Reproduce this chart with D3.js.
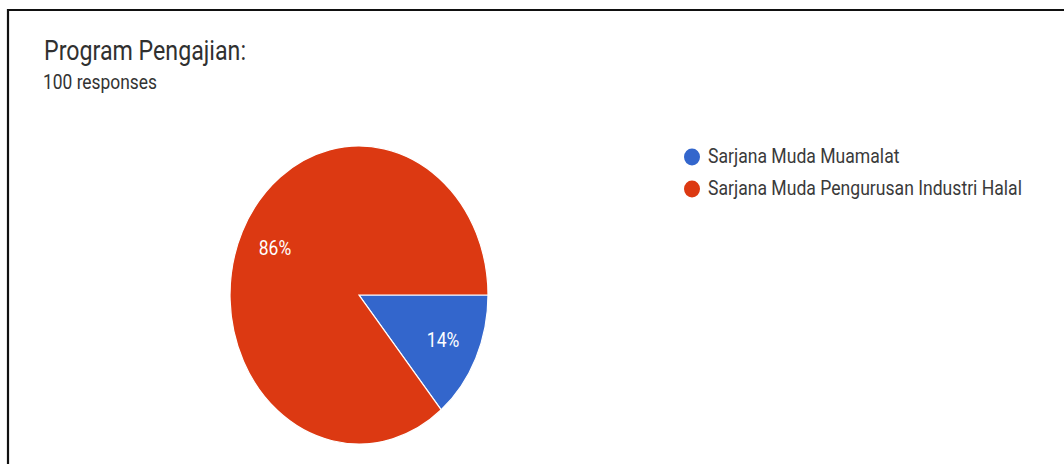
<!DOCTYPE html>
<html>
<head>
<meta charset="utf-8">
<script src="https://cdn.jsdelivr.net/npm/d3@7"></script>
<style>
  html, body { margin: 0; padding: 0; background: #fff; }
  svg { display: block; }
</style>
</head>
<body>
<svg id="chart" width="1064" height="464"></svg>
<script>
// Survey question and its answers
const title = "Program Pengajian:";
const subtitle = "100 responses";
const categories = ["Sarjana Muda Muamalat", "Sarjana Muda Pengurusan Industri Halal"];
const values = [14, 86];
const colors = ["#3366cc", "#dc3912"];

const W = 1064, H = 464;
const svg = d3.select("#chart");

svg.append("rect").attr("width", W).attr("height", H).attr("fill", "#fff");

// frame (left and top edges)
svg.append("path")
  .attr("d", `M8,${H} L8,10 L${W},10`)
  .attr("fill", "none")
  .attr("stroke", "#111")
  .attr("stroke-width", 2.2);

const textScaleY = 1.2;
function addText(x, y, str, size, color, anchor) {
  return svg.append("text")
    .attr("transform", `translate(${x},${y}) scale(1,${textScaleY})`)
    .attr("font-family", "Roboto, Arial, sans-serif")
    .attr("font-size", size)
    .attr("fill", color)
    .attr("text-anchor", anchor || "start")
    .text(str);
}

addText(44, 60, title, 23.2, "#303030");
addText(43, 89, subtitle, 17.4, "#333");

// Pie (slightly taller than wide)
const cx = 359, cy = 295, rx = 129, ry = 149;
const k = ry / rx;
const total = d3.sum(values);

const pie = d3.pie().sort(null).value(d => d)
  .startAngle(Math.PI / 2).endAngle(Math.PI / 2 + 2 * Math.PI);
const arcs = pie(values);
const arc = d3.arc().innerRadius(0).outerRadius(rx);
const labelArc = d3.arc().innerRadius(rx * 0.72).outerRadius(rx * 0.72);

const g = svg.append("g").attr("transform", `translate(${cx},${cy}) scale(1,${k})`);
g.selectAll("path.slice")
  .data(arcs)
  .join("path")
  .attr("class", "slice")
  .attr("d", arc)
  .attr("fill", (d, i) => colors[i])
  .attr("stroke", "#fff")
  .attr("stroke-width", 1.2)
  .attr("vector-effect", "non-scaling-stroke");

arcs.forEach((d, i) => {
  const [lx, ly] = labelArc.centroid(d);
  const pct = Math.round(values[i] / total * 100) + "%";
  addText(cx + lx, cy + ly * k + 6, pct, 17.5, "#fff", "middle");
});

// Legend
const legX = 692, legY0 = 157, legStep = 32;
categories.forEach((c, i) => {
  const y = legY0 + i * legStep;
  svg.append("ellipse")
    .attr("cx", legX).attr("cy", y)
    .attr("rx", 8).attr("ry", 8.5)
    .attr("fill", colors[i]);
  addText(legX + 16, y + 6, c, 17.6, "#3a3a3a");
});
</script>
</body>
</html>
